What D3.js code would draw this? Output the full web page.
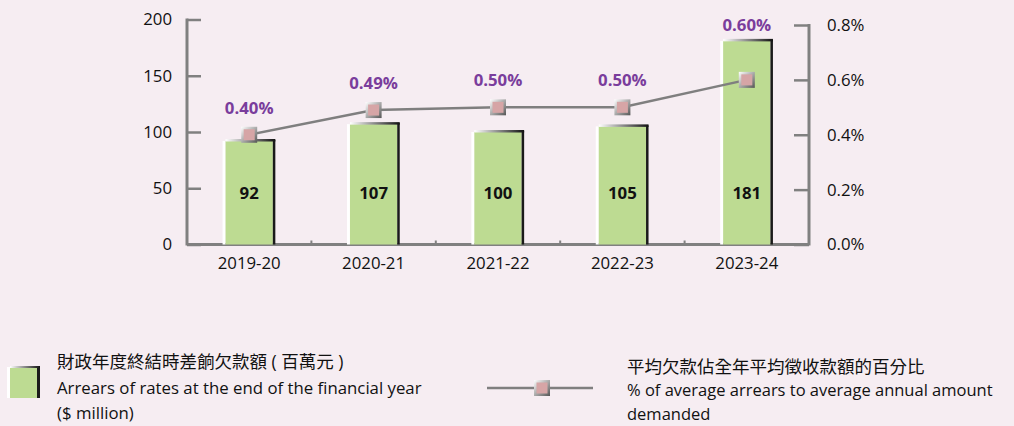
<!DOCTYPE html>
<html>
<head>
<meta charset="utf-8">
<script src="https://cdn.jsdelivr.net/npm/d3@7"></script>
<style>
  body { margin: 0; background: #f6edf2; }
  svg { display: block; font-family: "Open Sans", "Noto Sans CJK TC", sans-serif; }
</style>
</head>
<body>
<div id="chart"></div>
<script>
// Dados
const years = ['2019-20', '2020-21', '2021-22', '2022-23', '2023-24'];
const arrears = [92, 107, 100, 105, 181];
const percents = [0.40, 0.49, 0.50, 0.50, 0.60];
const leftTicks = [0, 50, 100, 150, 200];
const rightTicks = [0, 0.2, 0.4, 0.6, 0.8];

const W = 1014, H = 426;
const FS = 16.8;
const svg = d3.select('#chart').append('svg')
  .attr('width', W).attr('height', H);

svg.append('rect').attr('width', W).attr('height', H).attr('fill', '#f6edf2');

const defs = svg.append('defs');
const topGrad = defs.append('linearGradient').attr('id', 'topGrad');
topGrad.append('stop').attr('offset', '0%').attr('stop-color', '#ffffff');
topGrad.append('stop').attr('offset', '100%').attr('stop-color', '#111111');
const markGrad = defs.append('linearGradient').attr('id', 'markGrad')
  .attr('x1', '0%').attr('y1', '0%').attr('x2', '100%').attr('y2', '100%');
markGrad.append('stop').attr('offset', '0%').attr('stop-color', '#ffffff');
markGrad.append('stop').attr('offset', '100%').attr('stop-color', '#555555');

// Escalas
const x = d3.scaleBand().domain(years).range([187, 809]).paddingInner(0.62).paddingOuter(0.31);
const y = d3.scaleLinear().domain([0, 200]).range([244.5, 19.5]);
const y2 = d3.scaleLinear().domain([0, 0.8]).range([244.5, 25]);

const axisColor = '#808080';

// Eixo esquerdo
const yAxis = svg.append('g').attr('transform', 'translate(187,0)')
  .call(d3.axisRight(y).tickValues(leftTicks).tickSize(14).tickFormat(''));
yAxis.select('.domain').remove();
yAxis.selectAll('line').attr('stroke', axisColor).attr('stroke-width', 2.5);
svg.append('line').attr('x1', 187).attr('x2', 187).attr('y1', y(200) - 1).attr('y2', y(0) + 1)
  .attr('stroke', axisColor).attr('stroke-width', 3);
svg.append('g').selectAll('text').data(leftTicks).join('text')
  .attr('x', 172).attr('y', d => y(d)).attr('dy', '0.35em')
  .attr('text-anchor', 'end').attr('font-size', FS).attr('fill', '#111')
  .text(d => d);

// Eixo direito
const y2Axis = svg.append('g').attr('transform', 'translate(809,0)')
  .call(d3.axisLeft(y2).tickValues(rightTicks).tickSize(15).tickFormat(''));
y2Axis.select('.domain').remove();
y2Axis.selectAll('line').attr('stroke', axisColor).attr('stroke-width', 2.5);
svg.append('line').attr('x1', 809).attr('x2', 809).attr('y1', y2(0.8) - 1).attr('y2', y2(0) + 1)
  .attr('stroke', axisColor).attr('stroke-width', 3);
svg.append('g').selectAll('text').data(rightTicks).join('text')
  .attr('x', 827).attr('y', d => y2(d)).attr('dy', '0.35em')
  .attr('font-size', FS).attr('fill', '#111')
  .text(d => d.toFixed(1) + '%');

// Eixo inferior
svg.append('line').attr('x1', 187).attr('x2', 809).attr('y1', y(0)).attr('y2', y(0))
  .attr('stroke', axisColor).attr('stroke-width', 3);
const step = x.step();
svg.append('g').selectAll('line').data(years.slice(1)).join('line')
  .attr('x1', d => x(d) - x.paddingInner() * step / 2)
  .attr('x2', d => x(d) - x.paddingInner() * step / 2)
  .attr('y1', y(0)).attr('y2', y(0) - 4)
  .attr('stroke', axisColor).attr('stroke-width', 2);
svg.append('g').selectAll('text').data(years).join('text')
  .attr('x', d => x(d) + x.bandwidth() / 2).attr('y', 263).attr('dy', '0.35em')
  .attr('text-anchor', 'middle').attr('font-size', FS).attr('fill', '#111')
  .text(d => d);

// Barras
const bars = svg.append('g').selectAll('g').data(years).join('g');
bars.append('rect')
  .attr('x', d => x(d) - 3).attr('y', (d, i) => y(arrears[i]))
  .attr('width', 3).attr('height', (d, i) => y(0) - y(arrears[i]))
  .attr('fill', '#ffffff');
bars.append('rect')
  .attr('x', d => x(d)).attr('y', (d, i) => y(arrears[i]))
  .attr('width', x.bandwidth()).attr('height', (d, i) => y(0) - y(arrears[i]))
  .attr('fill', '#bddb92');
bars.append('rect')
  .attr('x', d => x(d) + x.bandwidth()).attr('y', (d, i) => y(arrears[i]) - 1)
  .attr('width', 2.5).attr('height', (d, i) => y(0) - y(arrears[i]) + 1)
  .attr('fill', '#1a1a1a');
bars.append('rect')
  .attr('x', d => x(d)).attr('y', (d, i) => y(arrears[i]) - 2)
  .attr('width', x.bandwidth() + 2.5).attr('height', 2.5)
  .attr('fill', 'url(#topGrad)');
bars.append('text')
  .attr('x', d => x(d) + x.bandwidth() / 2).attr('y', y(46)).attr('dy', '0.35em')
  .attr('text-anchor', 'middle').attr('font-size', FS).attr('font-weight', 'bold')
  .attr('fill', '#111')
  .text((d, i) => arrears[i]);

// Linha de percentuais
const pts = years.map((d, i) => [x(d) + x.bandwidth() / 2, y2(percents[i])]);
svg.append('path').attr('d', d3.line()(pts))
  .attr('fill', 'none').attr('stroke', '#7f7f7f').attr('stroke-width', 2.5);

function marker(g, cx, cy) {
  g.append('rect').attr('x', cx - 8).attr('y', cy - 8).attr('width', 16).attr('height', 16)
    .attr('fill', 'url(#markGrad)');
  g.append('rect').attr('x', cx - 5.5).attr('y', cy - 5.5).attr('width', 11).attr('height', 11)
    .attr('fill', '#d6a5a6');
}
const markers = svg.append('g');
pts.forEach(p => marker(markers, p[0], p[1]));

// rótulos acima do marcador ou da barra, o que for mais alto
svg.append('g').selectAll('text').data(percents).join('text')
  .attr('x', (d, i) => pts[i][0])
  .attr('y', (d, i) => Math.min(pts[i][1] - 27, y(arrears[i]) - 16)).attr('dy', '0.35em')
  .attr('text-anchor', 'middle').attr('font-size', FS).attr('font-weight', 'bold')
  .attr('fill', '#7a3d9c')
  .text(d => d.toFixed(2) + '%');

// Legenda
const lg = svg.append('g');
lg.append('rect').attr('x', 7).attr('y', 367).attr('width', 3).attr('height', 31).attr('fill', '#fff');
lg.append('rect').attr('x', 10).attr('y', 367).attr('width', 27).attr('height', 31).attr('fill', '#bddb92');
lg.append('rect').attr('x', 37).attr('y', 367).attr('width', 3).attr('height', 31).attr('fill', '#1a1a1a');
lg.append('rect').attr('x', 10).attr('y', 366).attr('width', 30).attr('height', 2).attr('fill', 'url(#topGrad)');
const leftLegend = ['財政年度終結時差餉欠款額 ( 百萬元 )', 'Arrears of rates at the end of the financial year', '($ million)'];
lg.selectAll('.l1').data(leftLegend).join('text').attr('class', 'l1')
  .attr('x', 57).attr('y', (d, i) => [362, 388, 413][i]).attr('dy', '0.35em')
  .attr('font-size', (d, i) => i === 0 ? 17.5 : FS).attr('fill', '#111')
  .text(d => d);

lg.append('line').attr('x1', 487).attr('x2', 593).attr('y1', 388).attr('y2', 388)
  .attr('stroke', '#7f7f7f').attr('stroke-width', 2.5);
marker(lg, 542, 388);
const rightLegend = ['平均欠款佔全年平均徵收款額的百分比', '% of average arrears to average annual amount', 'demanded'];
lg.selectAll('.l2').data(rightLegend).join('text').attr('class', 'l2')
  .attr('x', 627).attr('y', (d, i) => [367, 390, 414][i]).attr('dy', '0.35em')
  .attr('font-size', (d, i) => i === 0 ? 17.5 : 16.5).attr('fill', '#111')
  .text(d => d);
</script>
</body>
</html>
